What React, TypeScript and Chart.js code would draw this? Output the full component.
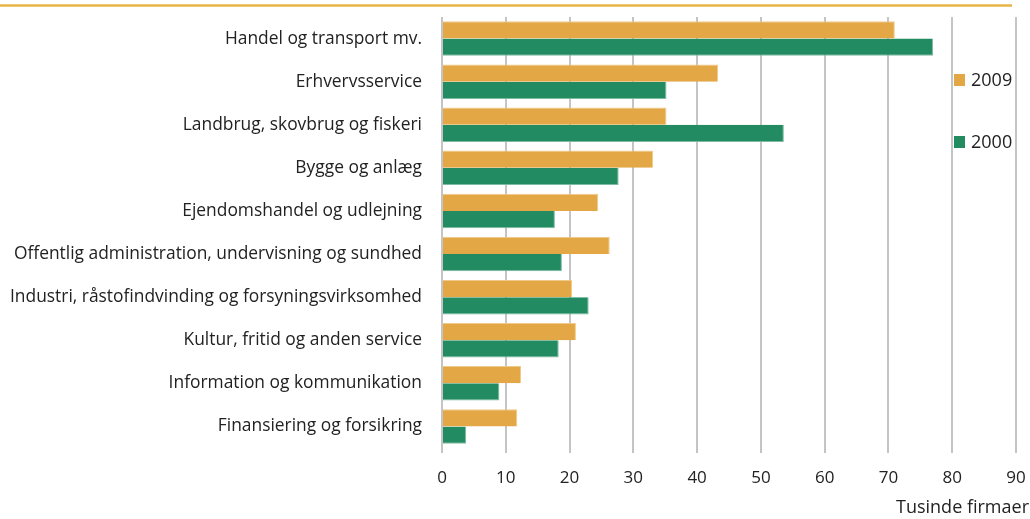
import React, { useEffect, useRef } from "react";
import { Chart, registerables } from "chart.js";

Chart.register(...registerables);

const categories = [
  "Handel og transport mv.",
  "Erhvervsservice",
  "Landbrug, skovbrug og fiskeri",
  "Bygge og anlæg",
  "Ejendomshandel og udlejning",
  "Offentlig administration, undervisning og sundhed",
  "Industri, råstofindvinding og forsyningsvirksomhed",
  "Kultur, fritid og anden service",
  "Information og kommunikation",
  "Finansiering og forsikring",
];
const values2009 = [71.0, 43.3, 35.2, 33.1, 24.5, 26.3, 20.4, 21.0, 12.4, 11.8];
const values2000 = [77.0, 35.2, 53.6, 27.7, 17.7, 18.8, 23.0, 18.3, 9.0, 3.8];
const seriesLabels = ["2009", "2000"];
const xTicks = [0, 10, 20, 30, 40, 50, 60, 70, 80, 90];
const axisTitle = "Tusinde firmaer";

const ORANGE = "#E3A845";
const GREEN = "#238B62";
const FONT = "'Open Sans', sans-serif";

export default function App() {
  const ref = useRef<HTMLCanvasElement | null>(null);
  useEffect(() => {
    if (!ref.current) return;
    const overlay = {
      id: "overlay",
      afterDraw(chart: any) {
        const ctx = chart.ctx;
        ctx.save();
        // top rule
        ctx.strokeStyle = "#E8B547";
        ctx.lineWidth = 2.5;
        ctx.beginPath();
        ctx.moveTo(0, 5.5);
        ctx.lineTo(1012, 5.5);
        ctx.stroke();
        // legend
        const ys = [80, 142];
        chart.data.datasets.forEach((ds: any, i: number) => {
          ctx.fillStyle = ds.backgroundColor;
          ctx.fillRect(954, ys[i] - 6, 11, 12);
          ctx.fillStyle = "#222";
          ctx.font = "18px " + FONT;
          ctx.textAlign = "left";
          ctx.textBaseline = "middle";
          ctx.fillText(ds.label, 971, ys[i] + 1);
        });
        // axis title
        ctx.fillStyle = "#222";
        ctx.font = "18px " + FONT;
        ctx.textAlign = "right";
        ctx.textBaseline = "middle";
        ctx.fillText(axisTitle, 1029, 508);
        ctx.restore();
      },
    };
    const chart = new Chart(ref.current, {
      type: "bar",
      data: {
        labels: categories,
        datasets: [
          {
            label: seriesLabels[0],
            data: values2009,
            backgroundColor: ORANGE,
            borderColor: "#EFC98A",
            borderWidth: { top: 1, bottom: 0, right: 1, left: 0 },
            categoryPercentage: 0.8,
            barPercentage: 1.0,
          },
          {
            label: seriesLabels[1],
            data: values2000,
            backgroundColor: GREEN,
            borderColor: "#7CBBA1",
            borderWidth: { top: 0, bottom: 1, right: 1, left: 0 },
            categoryPercentage: 0.8,
            barPercentage: 1.0,
          },
        ],
      },
      options: {
        indexAxis: "y",
        animation: false,
        responsive: false,
        maintainAspectRatio: false,
        layout: { padding: { top: 17, right: 14, left: 0, bottom: 0 } },
        plugins: {
          legend: { display: false },
          tooltip: { enabled: false },
        },
        scales: {
          x: {
            min: 0,
            max: 90,
            afterFit: (s: any) => {
              s.height = 71;
              s.paddingLeft = 0;
              s.paddingRight = 0;
              s.paddingTop = 0;
              s.paddingBottom = 0;
            },
            afterBuildTicks: (s: any) => {
              s.ticks = xTicks.map((v) => ({ value: v }));
            },
            grid: {
              color: "#C4C4C4",
              lineWidth: 2,
              drawTicks: true,
              tickLength: 5,
              tickColor: "#C4C4C4",
            },
            border: { display: false },
            ticks: {
              padding: 15,
              color: "#222",
              font: { family: FONT, size: 17 },
            },
          },
          y: {
            afterFit: (s: any) => {
              s.width = 442;
              s.paddingLeft = 0;
              s.paddingRight = 0;
              s.paddingTop = 0;
              s.paddingBottom = 0;
            },
            grid: { display: false },
            border: { display: false },
            ticks: {
              padding: 12,
              color: "#222",
              font: { family: FONT, size: 17.4 },
              autoSkip: false,
            },
          },
        },
      },
      plugins: [overlay],
    });
    return () => chart.destroy();
  }, []);
  return (
    <div style={{ position: "absolute", left: 0, top: 0, width: 1030, height: 519, background: "#fff" }}>
      <canvas ref={ref} width={1030} height={519} />
    </div>
  );
}
